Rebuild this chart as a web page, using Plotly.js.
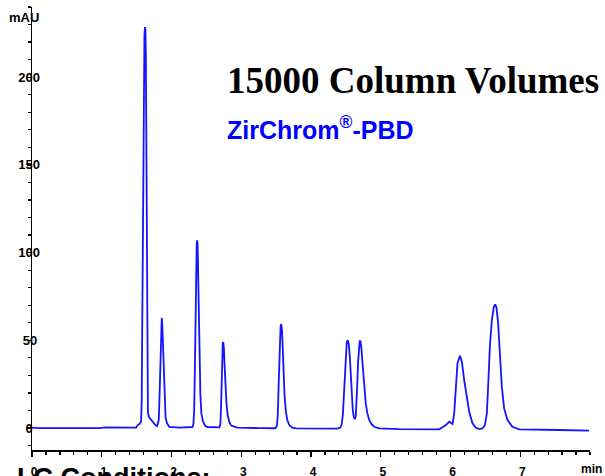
<!DOCTYPE html>
<html>
<head>
<meta charset="utf-8">
<script src="https://cdn.plot.ly/plotly-3.0.1.min.js"></script>
<style>html,body{margin:0;padding:0;background:#fff;}#chart{width:605px;height:476px;}</style>
</head>
<body>
<div id="chart"></div>
<script>
// Retention time (min)
const timeMin = [
  0.000, 0.107, 0.967, 1.053, 1.397, 1.493, 1.516, 1.540, 1.564, 1.573, 1.580, 1.587, 1.595, 1.603, 1.612,
  1.619, 1.626, 1.633, 1.640, 1.648, 1.655, 1.662, 1.676, 1.698, 1.731, 1.769, 1.794,
  1.817, 1.827, 1.837, 1.845, 1.852, 1.860, 1.867, 1.877, 1.888, 1.901, 1.915, 1.934, 1.970, 2.113,
  2.299, 2.314, 2.325, 2.335, 2.345, 2.354, 2.361, 2.368, 2.375, 2.384, 2.394, 2.404, 2.414, 2.428, 2.450, 2.479, 2.514,
  2.686, 2.701, 2.711, 2.719, 2.728, 2.735, 2.742, 2.751, 2.761, 2.772, 2.787, 2.805, 2.830, 2.858, 2.901, 2.944,
  3.259, 3.488, 3.510, 3.524, 3.536, 3.546, 3.556, 3.564, 3.574, 3.584, 3.595, 3.606, 3.620, 3.639, 3.660, 3.689, 3.732, 3.789,
  4.119, 4.377, 4.420, 4.441, 4.456, 4.470, 4.484, 4.499, 4.513, 4.527, 4.542, 4.556, 4.570, 4.585, 4.599, 4.613, 4.628,
  4.642, 4.653, 4.663, 4.675, 4.686, 4.698, 4.709, 4.721, 4.735, 4.749, 4.766, 4.785, 4.807, 4.835, 4.871, 4.914, 4.979,
  5.265, 5.838, 5.934, 5.981, 6.029, 6.053, 6.077, 6.100, 6.135, 6.163, 6.196, 6.235, 6.268, 6.315, 6.364, 6.411,
  6.458, 6.493, 6.521, 6.544, 6.564, 6.593, 6.622, 6.640, 6.659, 6.683, 6.708, 6.736, 6.769, 6.817, 6.888, 6.984,
  7.557, 7.987
];
// Absorbance (mAU)
const absorbanceMAU = [
  0.3, 0.0, 0.0, 0.4, 0.3, 0.3, 1.7, 2.3, 3.6, 16, 56, 101, 153, 198, 224,
  228.5, 227, 210, 158, 84, 27, 9, 6.3, 5.1, 3.6, 1.7, 1.1,
  4.6, 16, 33, 50, 60, 62.7, 60, 47, 30, 16, 6.3, 2.8, 0.7, 0.3,
  0.6, 2.3, 10, 33, 67, 95, 105, 107, 104, 84, 56, 33, 19, 8.5, 4, 1.4, 0.6,
  0.4, 2.3, 13, 30, 43, 48.4, 49, 45.6, 36, 24.5, 14.8, 7.4, 3.4, 1.4, 0.6, 0.2,
  0.0, -0.1, 1.1, 7.4, 24.5, 41.6, 53, 58, 59.3, 55.8, 45.6, 31.9, 18.8, 9.7, 4.6, 1.7, 0.2, -0.2,
  -0.3, -0.3, 0.3, 2.3, 7.4, 18.8, 33, 44.4, 49, 50.1, 47.9, 41, 30.2, 18.8, 10.3, 6.3, 5.1,
  6.8, 13.1, 24.5, 37.6, 46.2, 49.6, 49.6, 46.2, 38.7, 30.2, 21.7, 14.2, 8.5, 4.6, 2, 0.6, -0.2,
  -0.6, -0.7, 1.7, 3.6, 2.3, 8.4, 23.5, 36.9, 41.2, 37.8, 27.4, 17.8, 9.3, 2.7, 0.2, -0.6,
  -0.2, 1.7, 8.4, 27.4, 46.3, 61.5, 69.1, 70.5, 68.8, 59.7, 42.6, 23.5, 11.2, 4.6, 0.7, -0.7,
  -1.1, -1.5
];
const xTickVals = [0, 1, 2, 3, 4, 5, 6, 7];
const xTickText = ["0", "1", "2", "3", "4", "5", "6", "7"];
const yTickVals = [0, 50, 100, 150, 200];
const yTickText = ["0\u2007", "50\u2009", "100", "150", "200"];
const titleText = "15000 Column Volumes";
const subtitleText = "ZirChrom<sup>®</sup>-PBD";
const yUnit = "mAU";
const xUnit = "min";
const footerText = "LC Conditions:";

const sans = "Arial, 'Liberation Sans', sans-serif";
const trace = {
  x: timeMin, y: absorbanceMAU, type: 'scatter', mode: 'lines',
  line: {color: '#1414ff', width: 1.8, shape: 'linear'},
  hoverinfo: 'skip'
};
const layout = {
  width: 605, height: 476,
  margin: {l: 32, r: 15, t: 7, b: 26},
  paper_bgcolor: '#fff', plot_bgcolor: '#fff',
  showlegend: false,
  xaxis: {
    range: [0, 8], showgrid: false, zeroline: false,
    showline: true, linecolor: '#000', linewidth: 1.5,
    ticks: 'outside', ticklen: 5, tickwidth: 1.3, tickcolor: '#000',
    tickvals: xTickVals, ticktext: xTickText,
    ticklabelstandoff: 5, ticklabelshift: 2,
    tickfont: {family: sans, size: 12, color: '#000', weight: 'bold'},
    minor: {dtick: 0.2, ticks: 'outside', ticklen: 3, tickwidth: 1.2, tickcolor: '#000', showgrid: false}
  },
  yaxis: {
    range: [-12.5, 240], showgrid: false, zeroline: false,
    showline: true, linecolor: '#000', linewidth: 1.5,
    ticks: 'outside', ticklen: 4, tickwidth: 1.2, tickcolor: '#000',
    tickvals: yTickVals, ticktext: yTickText,
    ticklabelstandoff: -16,
    tickfont: {family: sans, size: 13, color: '#000', weight: 'bold'},
    minor: {dtick: 10, ticks: 'outside', ticklen: 3, tickwidth: 1.2, tickcolor: '#000', showgrid: false}
  },
  annotations: [
    {text: titleText, xref: 'paper', yref: 'paper', x: 0.346, y: 0.833, xanchor: 'left', yanchor: 'middle',
     showarrow: false, font: {family: "'Times New Roman', 'Liberation Serif', serif", size: 37, color: '#000', weight: 'bold'}},
    {text: subtitleText, xref: 'paper', yref: 'paper', x: 0.346, y: 0.7276, xanchor: 'left', yanchor: 'middle',
     showarrow: false, font: {family: sans, size: 25, color: '#0000ff', weight: 'bold'}},
    {text: yUnit, xref: 'paper', yref: 'paper', x: -0.045, y: 0.977, xanchor: 'left', yanchor: 'middle',
     showarrow: false, font: {family: sans, size: 13, color: '#000', weight: 'bold'}},
    {text: xUnit, xref: 'paper', yref: 'paper', x: 0.980, y: -0.043, xanchor: 'left', yanchor: 'middle',
     showarrow: false, font: {family: sans, size: 12, color: '#000', weight: 'bold'}},
    {text: footerText, xref: 'paper', yref: 'paper', x: -0.031, y: -0.025, xanchor: 'left', yanchor: 'top',
     showarrow: false, font: {family: sans, size: 27, color: '#000', weight: 'bold'}}
  ]
};
Plotly.newPlot('chart', [trace], layout, {staticPlot: true, displayModeBar: false});
</script>
</body>
</html>
